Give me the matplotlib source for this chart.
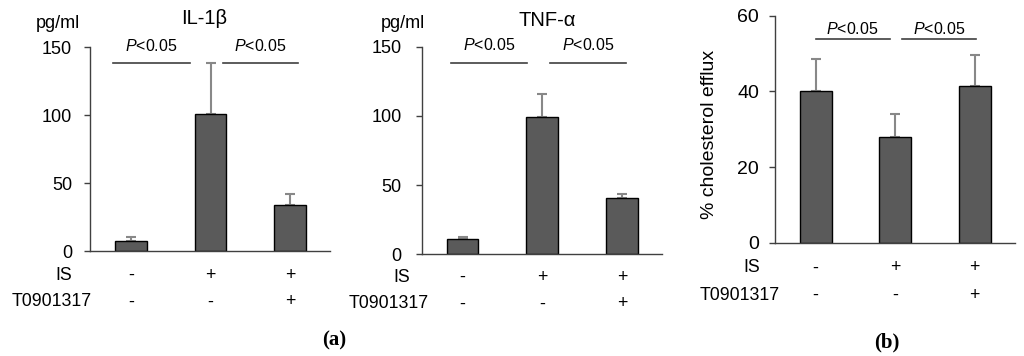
import numpy as np
import matplotlib
matplotlib.use("Agg")
import matplotlib.pyplot as plt

plt.rcParams['font.family'] = ['Liberation Sans', 'DejaVu Sans']
plt.rcParams['mathtext.fontset'] = 'custom'
plt.rcParams['mathtext.it'] = 'Liberation Sans:italic'
plt.rcParams['mathtext.rm'] = 'Liberation Sans'

# data
is_row = ['-', '+', '+']
t09_row = ['-', '-', '+']

il1b_mean = [7, 101, 34]
il1b_err = [3, 37, 8]

tnf_mean = [11, 99, 41]
tnf_err = [1.5, 16.5, 2.5]

efflux_mean = [40, 28, 41.5]
efflux_err = [8.5, 6, 8]

W, H = 1024, 356
fig = plt.figure(figsize=(W / 100, H / 100), dpi=100)


def px_axes(left, right, top, bottom):
    return fig.add_axes([left / W, 1 - bottom / H, (right - left) / W, (bottom - top) / H])


def fx(x):
    return x / W


def fy(y):
    return 1 - y / H


bar_col = '#5a5a5a'
err_col = '#888888'
axis_col = '#404040'


def bar_panel(ax, means, errs, ymax, step, xlim, sig_y, txt_y, sig_lines, tick_fs, pad):
    x = np.arange(len(means))
    ax.bar(x, means, width=0.40, color=bar_col, edgecolor='black', linewidth=1.0, zorder=2)
    ax.errorbar(x, means, yerr=[np.zeros(len(errs)), errs], fmt='none',
                ecolor=err_col, elinewidth=1.5, capsize=3.5, capthick=1.5, zorder=1)
    ax.set_xlim(*xlim)
    ax.set_ylim(0, ymax)
    ax.set_yticks(np.arange(0, ymax + 1, step))
    ax.set_xticks([])
    for s in ['top', 'right']:
        ax.spines[s].set_visible(False)
    for s in ['left', 'bottom']:
        ax.spines[s].set_color(axis_col)
        ax.spines[s].set_linewidth(1.0)
    ax.tick_params(axis='y', direction='out', length=4.5, width=1.0, color=axis_col,
                   labelsize=tick_fs, pad=pad)
    for x0, x1 in sig_lines:
        ax.plot([x0, x1], [sig_y, sig_y], color=axis_col, lw=1.2, clip_on=False)
        ax.text((x0 + x1) / 2, txt_y, '$P$<0.05', ha='center', va='center', fontsize=11.5)
    ax.patch.set_alpha(0)


# (a) IL-1beta
ax1 = px_axes(90, 330, 47, 251)
bar_panel(ax1, il1b_mean, il1b_err, 150, 50, (-0.516, 2.503), 138, 151,
          [(-0.226, 0.742), (1.157, 2.10)], 13, 8.5)

# (a) TNF-alpha
ax2 = px_axes(421.7, 661.7, 46.7, 254.3)
bar_panel(ax2, tnf_mean, tnf_err, 150, 50, (-0.513, 2.50), 138, 151,
          [(-0.14, 0.81), (1.10, 2.05)], 13, 10)

# (b) cholesterol efflux
ax3 = px_axes(775, 1015, 15.7, 242.7)
bar_panel(ax3, efflux_mean, efflux_err, 60, 20, (-0.51, 2.505), 53.8, 56.4,
          [(0.0, 0.93), (1.09, 2.02)], 14, 7)
fig.text(fx(710), fy(134), '% cholesterol efflux', rotation=90, ha='center', va='center',
         fontsize=14)

# treatment rows
rows = [(ax1, 72, 92, 275, 302), (ax2, 410, 429, 277, 304), (ax3, 760, 780, 268, 295)]
for ax, is_x, t_x, is_y, t_y in rows:
    fig.text(fx(is_x), fy(is_y), 'IS', ha='right', va='center', fontsize=12.8)
    fig.text(fx(t_x), fy(t_y), 'T0901317', ha='right', va='center', fontsize=12.8)
    tr = ax.get_xaxis_transform()
    y_is = (fy(is_y) - ax.get_position().y0) / ax.get_position().height
    y_t = (fy(t_y) - ax.get_position().y0) / ax.get_position().height
    for i in range(3):
        ax.text(i, y_is, is_row[i], transform=tr, ha='center', va='center', fontsize=12.8)
        ax.text(i, y_t, t09_row[i], transform=tr, ha='center', va='center', fontsize=12.8)

# headers
fig.text(fx(58), fy(23), 'pg/ml', ha='center', va='center', fontsize=13)
fig.text(fx(403), fy(24), 'pg/ml', ha='center', va='center', fontsize=13)
fig.text(fx(204), fy(19), 'IL-1β', ha='center', va='center', fontsize=14.5)
fig.text(fx(547), fy(21), 'TNF-α', ha='center', va='center', fontsize=14.5)

# panel letters
fig.text(fx(334), fy(340), '(a)', ha='center', va='center', fontsize=15,
         fontweight='bold', family=['Liberation Serif', 'DejaVu Serif'])
fig.text(fx(887), fy(342), '(b)', ha='center', va='center', fontsize=15,
         fontweight='bold', family=['Liberation Serif', 'DejaVu Serif'])

fig.savefig('out.png', dpi=100)
